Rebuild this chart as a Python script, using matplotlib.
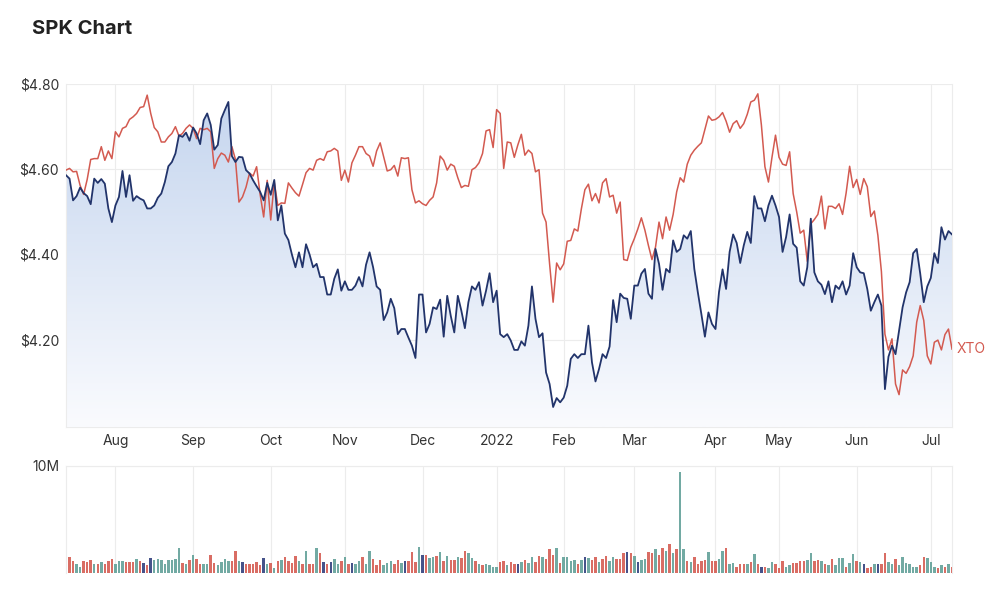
"""
SPK share price vs XTO (rebased) with daily volume underneath
"""
import numpy as np
import pandas as pd
import matplotlib
matplotlib.use("Agg")
import matplotlib.pyplot as plt
from matplotlib.colors import LinearSegmentedColormap
from matplotlib.patches import Polygon

plt.rcParams["font.family"] = ["Inter", "DejaVu Sans"]

# ASX trading calendar for the period shown
asx_holidays = ["2021-12-27", "2021-12-28", "2022-01-03", "2022-01-26",
                "2022-04-15", "2022-04-18", "2022-04-25", "2022-06-13"]
dates = pd.bdate_range("2021-07-13", "2022-07-11")
dates = dates[~dates.isin(pd.to_datetime(asx_holidays))]

# SPK close (AUD), one value per trading day
spk_close = [
    4.586, 4.578, 4.527, 4.537, 4.557, 4.544, 4.537, 4.518, 4.578, 4.568,
    4.577, 4.566, 4.508, 4.476, 4.515, 4.535, 4.596, 4.535, 4.586, 4.526,
    4.537, 4.531, 4.527, 4.508, 4.508, 4.515, 4.533, 4.543, 4.570, 4.607,
    4.617, 4.637, 4.680, 4.676, 4.686, 4.667, 4.698, 4.684, 4.659, 4.715,
    4.731, 4.704, 4.646, 4.657, 4.719, 4.739, 4.758, 4.631, 4.617, 4.629,
    4.628, 4.598, 4.590, 4.574, 4.560, 4.547, 4.527, 4.568, 4.540, 4.575,
    4.480, 4.515, 4.449, 4.434, 4.400, 4.370, 4.405, 4.370, 4.424, 4.400,
    4.370, 4.378, 4.347, 4.347, 4.306, 4.306, 4.343, 4.365, 4.315, 4.337,
    4.317, 4.317, 4.327, 4.347, 4.325, 4.376, 4.405, 4.370, 4.325, 4.317,
    4.246, 4.264, 4.296, 4.274, 4.213, 4.225, 4.225, 4.205, 4.186, 4.157,
    4.306, 4.306, 4.217, 4.237, 4.276, 4.272, 4.294, 4.207, 4.303, 4.256,
    4.217, 4.303, 4.268, 4.227, 4.288, 4.325, 4.317, 4.335, 4.280, 4.315,
    4.356, 4.288, 4.315, 4.213, 4.206, 4.213, 4.198, 4.176, 4.176, 4.196,
    4.186, 4.233, 4.325, 4.249, 4.206, 4.215, 4.123, 4.096, 4.042, 4.063,
    4.053, 4.064, 4.092, 4.155, 4.166, 4.157, 4.166, 4.166, 4.233, 4.147,
    4.102, 4.131, 4.166, 4.157, 4.184, 4.293, 4.241, 4.308, 4.298, 4.296,
    4.249, 4.327, 4.327, 4.355, 4.366, 4.308, 4.296, 4.413, 4.378, 4.317,
    4.366, 4.358, 4.433, 4.406, 4.413, 4.445, 4.437, 4.455, 4.366, 4.311,
    4.260, 4.207, 4.264, 4.237, 4.225, 4.312, 4.365, 4.319, 4.406, 4.447,
    4.427, 4.380, 4.421, 4.453, 4.427, 4.537, 4.508, 4.508, 4.478, 4.515,
    4.538, 4.515, 4.488, 4.406, 4.441, 4.494, 4.425, 4.416, 4.337, 4.327,
    4.370, 4.484, 4.358, 4.337, 4.329, 4.307, 4.337, 4.288, 4.327, 4.319,
    4.337, 4.306, 4.327, 4.403, 4.370, 4.358, 4.356, 4.319, 4.268, 4.288,
    4.306, 4.280, 4.084, 4.160, 4.186, 4.166, 4.221, 4.276, 4.311, 4.335,
    4.403, 4.413, 4.355, 4.288, 4.325, 4.345, 4.403, 4.380, 4.464, 4.435,
    4.455, 4.447,
]

# XTO rebased onto the SPK price scale
xto_rebased = [
    4.598, 4.602, 4.594, 4.595, 4.562, 4.541, 4.576, 4.623, 4.625, 4.625,
    4.653, 4.621, 4.643, 4.625, 4.688, 4.676, 4.696, 4.700, 4.717, 4.723,
    4.731, 4.745, 4.747, 4.774, 4.731, 4.698, 4.688, 4.664, 4.664, 4.676,
    4.684, 4.700, 4.678, 4.684, 4.696, 4.704, 4.696, 4.672, 4.696, 4.693,
    4.696, 4.688, 4.602, 4.625, 4.638, 4.633, 4.617, 4.653, 4.623, 4.523,
    4.535, 4.558, 4.591, 4.584, 4.606, 4.541, 4.488, 4.574, 4.481, 4.570,
    4.515, 4.521, 4.520, 4.568, 4.556, 4.545, 4.537, 4.564, 4.592, 4.602,
    4.598, 4.621, 4.625, 4.621, 4.641, 4.643, 4.649, 4.643, 4.574, 4.598,
    4.570, 4.615, 4.633, 4.653, 4.653, 4.637, 4.631, 4.607, 4.643, 4.662,
    4.629, 4.596, 4.599, 4.609, 4.584, 4.627, 4.625, 4.627, 4.552, 4.521,
    4.526, 4.519, 4.515, 4.527, 4.535, 4.568, 4.631, 4.621, 4.598, 4.612,
    4.607, 4.580, 4.557, 4.562, 4.560, 4.599, 4.604, 4.615, 4.637, 4.690,
    4.693, 4.651, 4.740, 4.731, 4.602, 4.664, 4.662, 4.628, 4.657, 4.682,
    4.633, 4.645, 4.637, 4.594, 4.599, 4.497, 4.476, 4.378, 4.288, 4.380,
    4.364, 4.378, 4.431, 4.433, 4.460, 4.455, 4.507, 4.552, 4.565, 4.526,
    4.543, 4.521, 4.568, 4.578, 4.535, 4.539, 4.497, 4.523, 4.388, 4.386,
    4.417, 4.437, 4.460, 4.486, 4.457, 4.421, 4.388, 4.417, 4.476, 4.437,
    4.488, 4.457, 4.494, 4.547, 4.580, 4.570, 4.612, 4.633, 4.645, 4.654,
    4.662, 4.693, 4.725, 4.715, 4.717, 4.723, 4.733, 4.713, 4.687, 4.707,
    4.714, 4.696, 4.707, 4.729, 4.758, 4.762, 4.777, 4.704, 4.606, 4.570,
    4.628, 4.680, 4.628, 4.612, 4.609, 4.641, 4.543, 4.500, 4.450, 4.457,
    4.384, 4.472, 4.482, 4.494, 4.537, 4.460, 4.513, 4.513, 4.508, 4.519,
    4.494, 4.544, 4.607, 4.557, 4.576, 4.541, 4.578, 4.559, 4.489, 4.502,
    4.445, 4.360, 4.213, 4.176, 4.202, 4.096, 4.071, 4.129, 4.121, 4.137,
    4.162, 4.241, 4.280, 4.245, 4.162, 4.143, 4.194, 4.199, 4.176, 4.212,
    4.225, 4.178,
]

# daily volume in millions of shares
volume_m = [
    1.32, 1.50, 1.13, 0.82, 0.57, 1.13, 1.07, 1.23, 0.82, 0.82,
    1.00, 0.82, 1.13, 1.32, 0.82, 1.13, 1.13, 1.00, 1.00, 1.00,
    1.32, 1.13, 0.91, 0.75, 1.38, 1.23, 1.29, 1.23, 0.82, 1.23,
    1.23, 1.32, 2.33, 0.91, 0.82, 1.23, 1.70, 1.32, 0.82, 0.82,
    0.82, 1.70, 0.91, 0.75, 1.00, 1.32, 1.13, 1.13, 2.10, 1.13,
    1.00, 0.82, 0.82, 0.82, 1.00, 0.70, 1.38, 0.82, 0.91, 0.50,
    1.13, 1.23, 1.50, 1.13, 0.91, 1.60, 1.13, 0.82, 2.10, 0.82,
    0.82, 2.33, 1.90, 1.00, 0.82, 1.00, 1.32, 0.82, 1.13, 1.50,
    0.82, 0.91, 0.82, 1.13, 1.50, 0.82, 2.10, 1.32, 0.70, 1.23,
    0.70, 0.91, 1.13, 0.82, 1.23, 0.91, 1.13, 1.13, 2.00, 1.07,
    2.40, 1.70, 1.70, 1.38, 1.45, 1.60, 2.00, 1.13, 1.60, 1.23,
    1.23, 1.50, 1.38, 2.10, 1.90, 1.38, 1.13, 0.82, 0.70, 0.82,
    0.70, 0.60, 0.60, 1.00, 1.13, 0.70, 1.00, 0.82, 0.82, 1.00,
    1.23, 0.91, 1.50, 1.00, 1.60, 1.50, 1.32, 2.20, 1.70, 2.30,
    0.91, 1.50, 1.50, 1.13, 1.23, 0.82, 1.23, 1.50, 1.38, 1.23,
    1.50, 1.00, 1.32, 1.60, 1.13, 1.50, 1.32, 1.32, 1.90, 2.00,
    1.90, 1.60, 1.00, 1.23, 1.32, 2.00, 1.90, 2.20, 1.70, 2.33,
    2.10, 2.70, 1.90, 2.20, 9.45, 2.20, 1.13, 1.00, 1.50, 0.82,
    1.13, 1.23, 2.00, 1.13, 1.13, 1.32, 2.10, 2.30, 0.82, 0.91,
    0.60, 0.82, 0.82, 0.82, 1.00, 1.80, 0.82, 0.60, 0.60, 0.50,
    1.00, 0.82, 0.44, 1.13, 0.60, 0.70, 0.91, 0.91, 1.13, 1.13,
    1.23, 1.90, 1.13, 1.23, 1.13, 0.82, 0.70, 1.32, 0.70, 1.38,
    1.38, 0.60, 0.91, 1.80, 1.13, 1.00, 0.82, 0.44, 0.60, 0.82,
    0.82, 0.82, 1.90, 1.00, 0.82, 1.32, 0.70, 1.50, 0.91, 0.82,
    0.60, 0.60, 0.70, 1.50, 1.38, 1.00, 0.60, 0.44, 0.70, 0.60,
    0.82, 0.60,
]

# bar colour per day: r = down, g = up, n = unchanged
volume_dir = (
    "nrrggrrrgr" "grrrgggrrr" "grnrnggggg" "gggrgrgrrg" "grrggggrrg"
    "nrrrrrngrg" "rgrrrrgrgr" "rgrnrnggrg" "rnggrggrrr" "gggrrgnrrr"
    "gnrggrgrgr" "rgrrggrgrg" "gggrrgrrng" "rggrrgrrrg" "rggggrgngr"
    "rgrrggrrrn" "rgnggrrgrr" "grgrggrgrr" "rrgrrggrgg" "rrrgrgrnrg"
    "grrrggrrrr" "ggrrgrgrgg" "grggrgnrrg" "nrrggrgggg" "ggrrgggrgr"
    "gr"
)

ax_left, ax_width = 0.066, 0.886
navy = "#22346b"
red = "#d35a50"
bar_colors = {"r": "#d4594f", "g": "#5e9f96", "n": "#2c3b7a"}
grid_c = "#ececec"
text_c = "#333333"

x = np.arange(len(dates))
spk = np.array(spk_close)
xto = np.array(xto_rebased)
vol = np.array(volume_m) * 1e6

# first trading day of each month -> tick positions
month_idx = [i for i in range(1, len(dates)) if dates[i].month != dates[i - 1].month]
month_lbl = ["2022" if dates[i].month == 1 else dates[i].strftime("%b") for i in month_idx]

fig = plt.figure(figsize=(10, 5.89), dpi=100)
fig.text(0.032, 0.950, "SPK Chart", fontsize=14.5, fontweight="bold",
         color="#222222", va="center", ha="left")

# price panel
ax = fig.add_axes([ax_left, 0.275, ax_width, 0.5823])
y_lo, y_hi = 3.995, 4.80
ax.set_xlim(0, len(x) - 1)
ax.set_ylim(y_lo, y_hi)

# gradient fill under SPK line, clipped to the area below the line
cmap = LinearSegmentedColormap.from_list("fade", ["#fafbfe", "#c3d4ee"])
grad = np.linspace(0, 1, 256).reshape(-1, 1)
im = ax.imshow(grad, cmap=cmap, aspect="auto", origin="lower",
               extent=[0, len(x) - 1, y_lo, y_hi], zorder=1)
verts = np.vstack([np.column_stack([x, spk]),
                   [[x[-1], y_lo], [x[0], y_lo]]])
area = Polygon(verts, closed=True, facecolor="none", edgecolor="none")
ax.add_patch(area)
im.set_clip_path(area)

ax.plot(x, xto, color=red, lw=1.1, zorder=3)
ax.plot(x, spk, color=navy, lw=1.3, zorder=4)
ax.text(len(x) - 1 + 1.2, xto[-1], "XTO", color=red, fontsize=10,
        va="center", ha="left", clip_on=False)

ax.set_yticks([4.20, 4.40, 4.60, 4.80])
ax.set_yticklabels(["$4.20", "$4.40", "$4.60", "$4.80"])
ax.set_xticks(month_idx)
ax.set_xticklabels(month_lbl)
ax.grid(True, color=grid_c, lw=0.8, zorder=0)
ax.set_axisbelow(True)
ax.tick_params(length=0, labelsize=10, labelcolor=text_c, pad=5)
for side in ["top", "right", "left", "bottom"]:
    ax.spines[side].set_color(grid_c)
    ax.spines[side].set_linewidth(0.8)
ax.spines["top"].set_visible(False)

# volume panel
axv = fig.add_axes([ax_left, 0.0272, ax_width, 0.1817])
axv.bar(x, vol, width=0.7, color=[bar_colors[c] for c in volume_dir],
        alpha=0.88, zorder=2)
axv.set_xlim(0, len(x) - 1)
axv.set_ylim(0, 10e6)
axv.set_yticks([10e6])
axv.set_yticklabels(["10M"])
axv.set_xticks(month_idx)
axv.set_xticklabels([])
axv.grid(True, color=grid_c, lw=0.8, zorder=0)
axv.set_axisbelow(True)
axv.tick_params(length=0, labelsize=10, labelcolor=text_c, pad=5)
for side in ["top", "right", "left", "bottom"]:
    axv.spines[side].set_color(grid_c)
    axv.spines[side].set_linewidth(0.8)
axv.spines["bottom"].set_visible(False)

fig.savefig("out.png", dpi=100, facecolor="white")
